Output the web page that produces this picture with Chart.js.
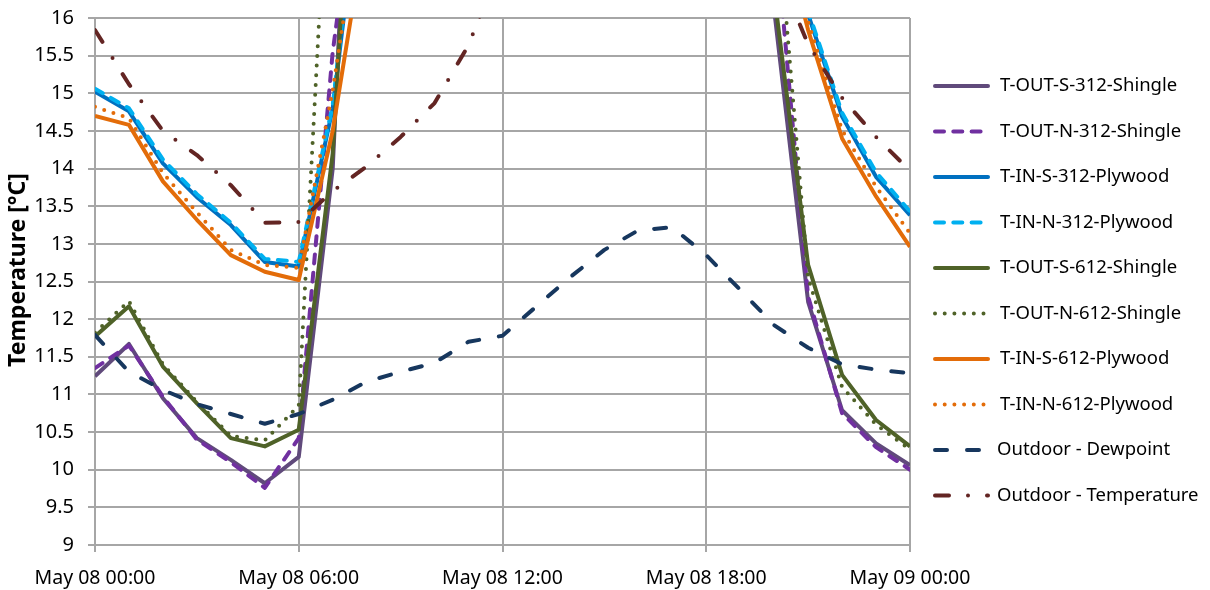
<!DOCTYPE html>
<html><head><meta charset="utf-8">
<script src="https://cdn.jsdelivr.net/npm/chart.js@4.4.1/dist/chart.umd.min.js"></script>
<style>html,body{margin:0;padding:0;background:#fff;}#wrap{width:1210px;height:590px;}</style>
</head><body><div id="wrap"><canvas id="c" width="1210" height="590"></canvas></div>
<script>
// ---- data (hourly, May 08 00:00 .. May 09 00:00) ----
const hours = [0,1,2,3,4,5,6,7,8,9,10,11,12,13,14,15,16,17,18,19,20,21,22,23,24];
const xTickHours = [0, 6, 12, 18, 24];
const xTickText = ['May 08 00:00', 'May 08 06:00', 'May 08 12:00', 'May 08 18:00', 'May 09 00:00'];
const yMin = 9, yMax = 16, yStep = 0.5;
const yTitle = 'Temperature [°C]';
const seriesNames = ['T-OUT-S-312-Shingle','T-OUT-N-312-Shingle','T-IN-S-312-Plywood','T-IN-N-312-Plywood',
  'T-OUT-S-612-Shingle','T-OUT-N-612-Shingle','T-IN-S-612-Plywood','T-IN-N-612-Plywood',
  'Outdoor - Dewpoint','Outdoor - Temperature'];
const outS312 = [11.24,11.67,10.95,10.42,10.13,9.82,10.17,14.0,23.7,27.0,29.5,31.5,33.0,34.0,34.5,34.0,32.5,30.0,26.5,22.0,16.11,12.23,10.79,10.35,10.06];
const outN312 = [11.35,11.65,10.97,10.40,10.10,9.76,10.42,15.55,18.9,23.0,26.5,29.0,31.0,32.0,32.5,32.0,30.5,28.0,25.0,21.0,17.33,12.30,10.75,10.30,10.00];
const inS312  = [15.02,14.76,14.07,13.62,13.25,12.76,12.70,14.80,18.5,21.0,23.0,24.5,25.5,26.0,26.0,25.5,24.5,23.0,21.5,20.0,18.5,16.05,14.69,13.89,13.38];
const inN312  = [15.06,14.80,14.12,13.66,13.28,12.80,12.76,14.84,18.8,21.3,23.3,24.8,25.8,26.3,26.3,25.8,24.8,23.3,21.8,20.3,18.8,16.10,14.74,13.95,13.43];
const outS612 = [11.77,12.17,11.37,10.88,10.42,10.31,10.53,14.20,21.8,26.0,29.0,31.0,32.5,33.5,34.0,33.5,32.0,29.5,26.0,21.5,16.32,12.72,11.26,10.66,10.31];
const outN612 = [11.82,12.24,11.40,10.90,10.45,10.39,10.85,19.40,23.0,26.5,29.0,31.0,32.0,33.0,33.5,33.0,31.5,29.0,26.0,22.0,17.88,12.55,11.10,10.60,10.27];
const inS612  = [14.70,14.58,13.83,13.32,12.85,12.63,12.52,14.50,17.3,19.8,21.8,23.3,24.3,24.8,24.8,24.3,23.3,22.0,20.5,19.0,17.6,15.84,14.40,13.63,12.96];
const inN612  = [14.82,14.67,13.94,13.42,12.92,12.72,12.68,15.04,18.0,20.5,22.5,24.0,25.0,25.5,25.5,25.0,24.0,22.7,21.2,19.7,18.2,15.95,14.51,13.76,13.14];
const dewpoint = [11.79,11.30,11.06,10.87,10.74,10.61,10.74,10.93,11.17,11.30,11.42,11.70,11.78,12.17,12.56,12.92,13.18,13.22,12.85,12.39,11.92,11.62,11.40,11.33,11.28];
const outdoorTemp = [15.84,15.12,14.50,14.18,13.78,13.28,13.29,13.70,14.03,14.42,14.87,15.64,16.80,18.0,19.0,19.6,19.8,19.5,18.8,17.8,16.73,15.65,14.94,14.42,13.97];

const seriesValues = [outS312,outN312,inS312,inN312,outS612,outN612,inS612,inN612,dewpoint,outdoorTemp];
const seriesColors = ['#604A7B','#7030A0','#0070C0','#00B0F0','#4F6228','#4F6228','#E36C09','#E36C09','#17375E','#632523'];
const DASH = [9, 9.3], DOT = [0, 9.7], LONGDASH = [12, 20], DASHDOT = [14, 19, 0, 19];
const seriesDash = [[], DASH, [], DASH, [], DOT, [], DOT, LONGDASH, DASHDOT];

const FONT = '"Noto Sans", "Open Sans", sans-serif';
const GRID = '#A6A6A6';

const datasets = seriesNames.map((name, i) => ({
  label: name,
  data: hours.map((h, k) => ({x: h, y: seriesValues[i][k]})),
  borderColor: seriesColors[i],
  backgroundColor: seriesColors[i],
  borderWidth: 4,
  borderDash: seriesDash[i],
  borderCapStyle: seriesDash[i].length ? 'round' : 'butt',
  borderJoinStyle: 'round',
  pointRadius: 0,
  tension: 0,
  fill: false,
  order: seriesNames.length - i
}));

const sideLegend = {
  id: 'sideLegend',
  afterDraw(chart) {
    const ctx = chart.ctx;
    // y-axis title
    ctx.save();
    ctx.translate(18, 270);
    ctx.rotate(-Math.PI / 2);
    ctx.fillStyle = '#000';
    ctx.font = 'bold 23px ' + FONT;
    ctx.textAlign = 'center';
    ctx.textBaseline = 'middle';
    ctx.fillText(yTitle, 0, 0);
    ctx.restore();
    // legend
    chart.data.datasets.forEach((ds, i) => {
      const y = 86 + i * 45.5;
      ctx.save();
      ctx.strokeStyle = ds.borderColor;
      ctx.lineWidth = ds.borderWidth;
      ctx.lineCap = 'round';
      ctx.setLineDash(ds.borderDash);
      ctx.beginPath(); ctx.moveTo(935, y); ctx.lineTo(988, y); ctx.stroke();
      ctx.setLineDash([]);
      ctx.fillStyle = '#000';
      ctx.font = '18.5px ' + FONT;
      ctx.textBaseline = 'middle';
      ctx.fillText(ds.label, i >= 8 ? 997 : 1000, y);
      ctx.restore();
    });
  }
};

new Chart(document.getElementById('c'), {
  type: 'line',
  data: { datasets },
  options: {
    responsive: false,
    devicePixelRatio: 1,
    animation: false,
    layout: { padding: { left: 0, right: 300, top: 18, bottom: 0 } },
    plugins: { legend: { display: false }, tooltip: { enabled: false } },
    scales: {
      x: {
        type: 'linear', min: 0, max: 24,
        afterFit(s) { s.height = 45; s.paddingLeft = 0; s.paddingRight = 0; },
        afterBuildTicks(s) { s.ticks = xTickHours.map(v => ({value: v})); },
        ticks: { callback: v => xTickText[xTickHours.indexOf(v)], color: '#000', font: { family: FONT, size: 19.5 }, padding: 15, maxRotation: 0, autoSkip: false },
        grid: { color: GRID, lineWidth: 2, tickLength: 7, tickColor: GRID },
        border: { color: GRID, width: 2 }
      },
      y: {
        min: yMin, max: yMax,
        afterFit(s) { s.width = 95; s.paddingTop = 0; s.paddingBottom = 0; },
        ticks: { stepSize: yStep, callback: v => String(Math.round(v * 10) / 10), color: '#000', font: { family: FONT, size: 20 }, padding: 14 },
        grid: { color: GRID, lineWidth: 2, tickLength: 7, tickColor: GRID },
        border: { color: GRID, width: 2 },
        title: { display: false }
      }
    }
  },
  plugins: [sideLegend]
});
</script></body></html>
